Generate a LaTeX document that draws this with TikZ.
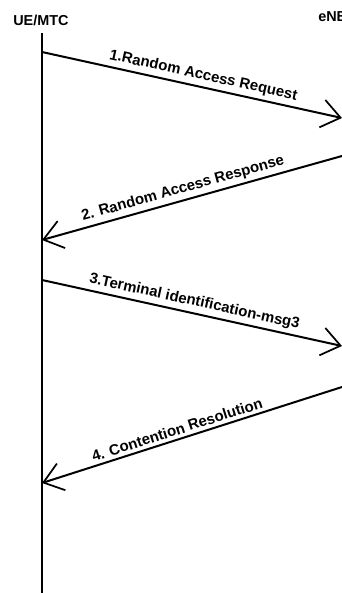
\documentclass[tikz,border=0pt]{standalone}
\usepackage{fontspec}
\setmainfont{Liberation Sans}
\usepackage{tikz}
\usetikzlibrary{arrows.meta,positioning}

\begin{document}
\begin{tikzpicture}[
  x=0.75pt, y=-0.75pt,
  entity/.style={font=\bfseries\fontsize{10.8}{12}\selectfont, inner sep=0pt, anchor=west},
  lifeline/.style={draw, line width=1.5pt},
  msg/.style={  % message arrows with open barb heads
           draw,
           -{Straight Barb[length=14pt, width=21pt, line width=1.3pt]},
           line width=1.5pt},
  msglabel/.style={font=\bfseries\fontsize{11.2}{12}\selectfont, sloped, above=2.5pt, inner sep=0pt}
]
  \useasboundingbox (0,0) rectangle (342,593);

  \node[entity] (ue)  at (13,20) {UE/MTC};
  \node[entity] (enb) at (318,17) {eNB};

  % lifeline of the terminal
  \coordinate (uetop) at (42,33);
  \coordinate (uebot) at (42,593);
  \draw[lifeline] (uetop) -- (uebot);

  % end points on both sides
  \coordinate (u1) at (42,52);
  \coordinate (e1) at (342,118);
  \coordinate (e2) at (342,156);
  \coordinate (u2) at (42,240);
  \coordinate (u3) at (42,280);
  \coordinate (e3) at (342,346);
  \coordinate (e4) at (342,387);
  \coordinate (u4) at (42,483);

  \draw[msg] (u1) -- node[msglabel, pos=0.53] {1.Random Access Request} (e1);
  \draw[msg] (e2) -- node[msglabel, pos=0.52] {2. Random Access Response} (u2);
  \draw[msg] (u3) -- node[msglabel, pos=0.5] {3.Terminal identification-msg3} (e3);
  \draw[msg] (e4) -- node[msglabel, pos=0.54] {4. Contention Resolution} (u4);

\end{tikzpicture}
\end{document}
